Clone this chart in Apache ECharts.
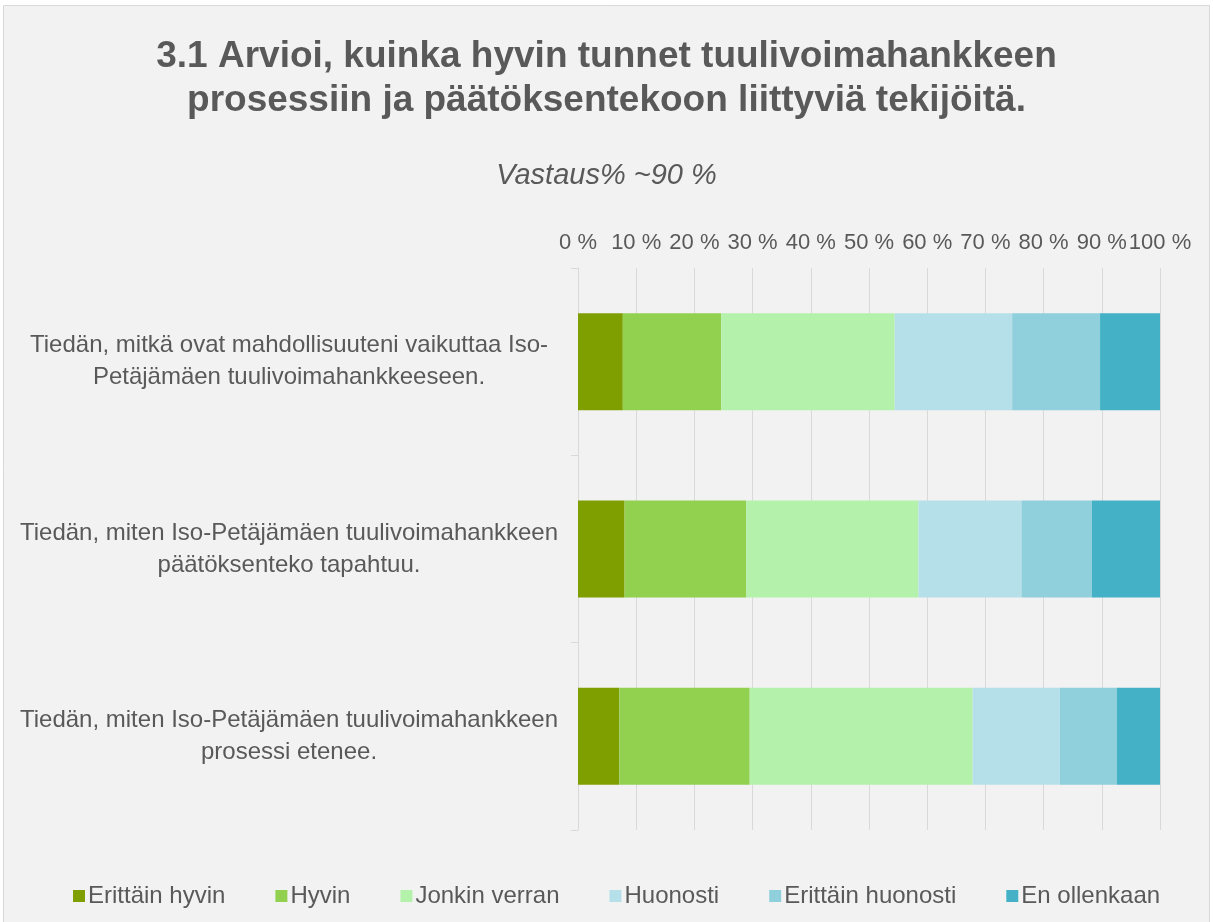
<!DOCTYPE html>
<html>
<head>
<meta charset="utf-8">
<script src="https://cdn.jsdelivr.net/npm/echarts@6/dist/echarts.min.js"></script>
<style>
  html, body { margin: 0; padding: 0; background: #fff; }
  #chart { width: 1213px; height: 922px; }
</style>
</head>
<body>
<div id="chart"></div>
<script>
// categories, top to bottom
const categories = [
  'Tiedän, mitkä ovat mahdollisuuteni vaikuttaa Iso-\nPetäjämäen tuulivoimahankkeeseen.',
  'Tiedän, miten Iso-Petäjämäen tuulivoimahankkeen\npäätöksenteko tapahtuu.',
  'Tiedän, miten Iso-Petäjämäen tuulivoimahankkeen\nprosessi etenee.'
];
const seriesNames = ['Erittäin hyvin', 'Hyvin', 'Jonkin verran', 'Huonosti', 'Erittäin huonosti', 'En ollenkaan'];
const erittainHyvin = [7.7, 8.0, 7.1];
const hyvin = [16.9, 20.9, 22.4];
const jonkinVerran = [29.8, 29.6, 38.3];
const huonosti = [20.2, 17.7, 15.0];
const erittainHuonosti = [15.1, 12.1, 9.8];
const enOllenkaan = [10.3, 11.7, 7.4];
const seriesValues = [erittainHyvin, hyvin, jonkinVerran, huonosti, erittainHuonosti, enOllenkaan];
const colors = ['#7F9F00', '#92D050', '#B4F1AA', '#B6E0E9', '#8FD0DC', '#44B1C6'];

const font = "'Liberation Sans', Arial, sans-serif";
const chart = echarts.init(document.getElementById('chart'));

const option = {
  backgroundColor: '#fff',
  animation: false,
  color: colors,
  textStyle: { fontFamily: font },
  graphic: [{
    type: 'rect',
    z: -10,
    shape: { x: 3.5, y: 5.5, width: 1206, height: 930 },
    style: { fill: '#F2F2F2', stroke: '#D9D9D9', lineWidth: 1 }
  }],
  title: [{
    text: '3.1 Arvioi, kuinka hyvin tunnet tuulivoimahankkeen\nprosessiin ja päätöksentekoon liittyviä tekijöitä.',
    left: 'center',
    top: 30,
    textStyle: { fontFamily: font, fontSize: 37, fontWeight: 'bold', color: '#595959', lineHeight: 44 }
  }, {
    text: 'Vastaus% ~90 %',
    left: 'center',
    top: 156,
    textStyle: { fontFamily: font, fontSize: 29, fontWeight: 'normal', fontStyle: 'italic', color: '#595959' }
  }],
  legend: {
    data: seriesNames,
    bottom: 9,
    left: 68,
    itemWidth: 12,
    itemHeight: 12,
    itemGap: 50,
    icon: 'rect',
    textStyle: { fontFamily: font, fontSize: 24, color: '#595959', padding: [0, 0, 0, -2] }
  },
  grid: { left: 578, right: 53, top: 268, bottom: 92 },
  xAxis: {
    type: 'value',
    position: 'top',
    min: 0,
    max: 100,
    interval: 10,
    axisLine: { show: false },
    axisTick: { show: false },
    splitLine: { show: true, lineStyle: { color: '#D9D9D9', width: 1 } },
    axisLabel: {
      formatter: '{value} %', fontFamily: font, fontSize: 22, color: '#595959', margin: 14,
      showMaxLabel: true, showMinLabel: true, hideOverlap: false
    }
  },
  yAxis: {
    type: 'category',
    inverse: true,
    data: categories,
    axisLine: { show: true, lineStyle: { color: '#D9D9D9' } },
    axisTick: { show: true, length: 7, lineStyle: { color: '#D9D9D9' } },
    axisLabel: { fontFamily: font, fontSize: 24, color: '#595959', align: 'center', margin: 289, lineHeight: 32 }
  },
  series: seriesNames.map((name, i) => ({
    name: name,
    type: 'bar',
    stack: 'total',
    barWidth: 97,
    data: seriesValues[i],
    itemStyle: { color: colors[i] }
  }))
};
chart.setOption(option);
</script>
</body>
</html>
